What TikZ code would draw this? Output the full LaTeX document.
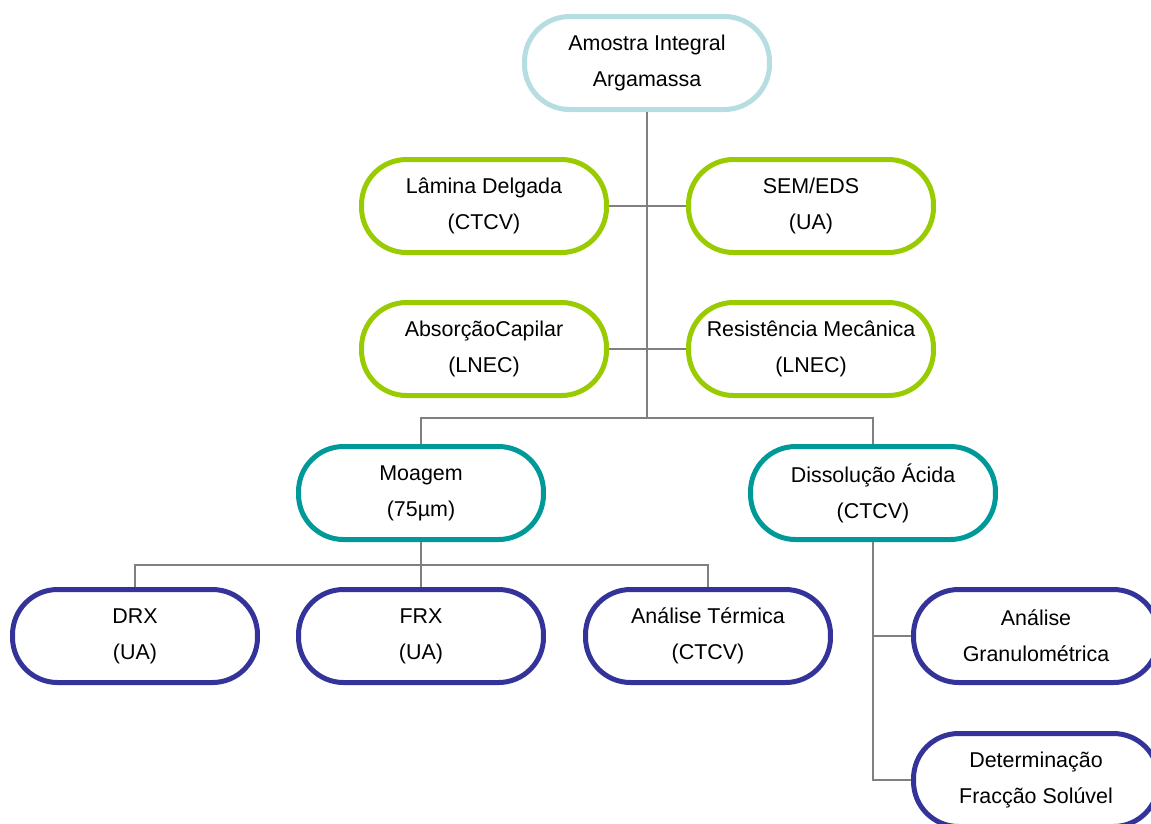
\documentclass[tikz,border=0pt]{standalone}
\usepackage{fontspec}
\setmainfont{Liberation Sans}
\definecolor{azulclaro}{HTML}{B6DEE2}
\definecolor{verde}{HTML}{99CC00}
\definecolor{petroleo}{HTML}{009999}
\definecolor{anil}{HTML}{333399}
\definecolor{cinza}{HTML}{808080}
\tikzset{
  caixa/.style={draw, line width=0.1cm, fill=white, rounded corners=0.9cm,
    minimum width=4.9cm, minimum height=1.86cm, inner sep=0pt, align=center,
    font=\fontsize{12.2}{20.5}\selectfont},
  nivelA/.style={caixa, draw=azulclaro},
  nivelB/.style={caixa, draw=verde},
  nivelC/.style={caixa, draw=petroleo},
  nivelD/.style={caixa, draw=anil},
  liga/.style={draw=cinza, line width=0.04cm}
}
\begin{document}
\begin{tikzpicture}[x=0.02cm,y=-0.02cm]
\useasboundingbox (0,0) rectangle (1151,823);
\clip (0,0) rectangle (1151,823);
\node[nivelA] (amostra) at (647,63) {Amostra Integral\\Argamassa};
\node[nivelB] (lamina) at (484,206) {Lâmina Delgada\\(CTCV)};
\node[nivelB] (sem) at (811,206) {SEM/EDS\\(UA)};
\node[nivelB] (absorcao) at (484,349) {AbsorçãoCapilar\\(LNEC)};
\node[nivelB] (resist) at (811,349) {Resistência Mecânica\\(LNEC)};
\node[nivelC] (moagem) at (421,493) {Moagem\\(75µm)};
\node[nivelC] (dissol) at (873,493) {Dissolução Ácida\\(CTCV)};
\node[nivelD] (drx) at (135,636) {DRX\\(UA)};
\node[nivelD] (frx) at (421,636) {FRX\\(UA)};
\node[nivelD] (termica) at (708,636) {Análise Térmica\\(CTCV)};
\node[nivelD] (granulo) at (1036,636) {Análise\\Granulométrica};
\node[nivelD] (determ) at (1036,780) {Determinação\\Fracção Solúvel};
\coordinate (j1) at (647,418);
\coordinate (j2) at (421,565);
\draw[liga] (amostra) -- (j1);
\draw[liga] (lamina) -- (sem);
\draw[liga] (absorcao) -- (resist);
\draw[liga] (moagem.north) |- (j1) -| (dissol.north);
\draw[liga] (moagem) -- (j2);
\draw[liga] (drx.north) |- (j2) -| (termica.north);
\draw[liga] (j2) -- (frx);
\draw[liga] (dissol.south) |- (granulo.west);
\draw[liga] (dissol.south) |- (determ.west);
\end{tikzpicture}
\end{document}
